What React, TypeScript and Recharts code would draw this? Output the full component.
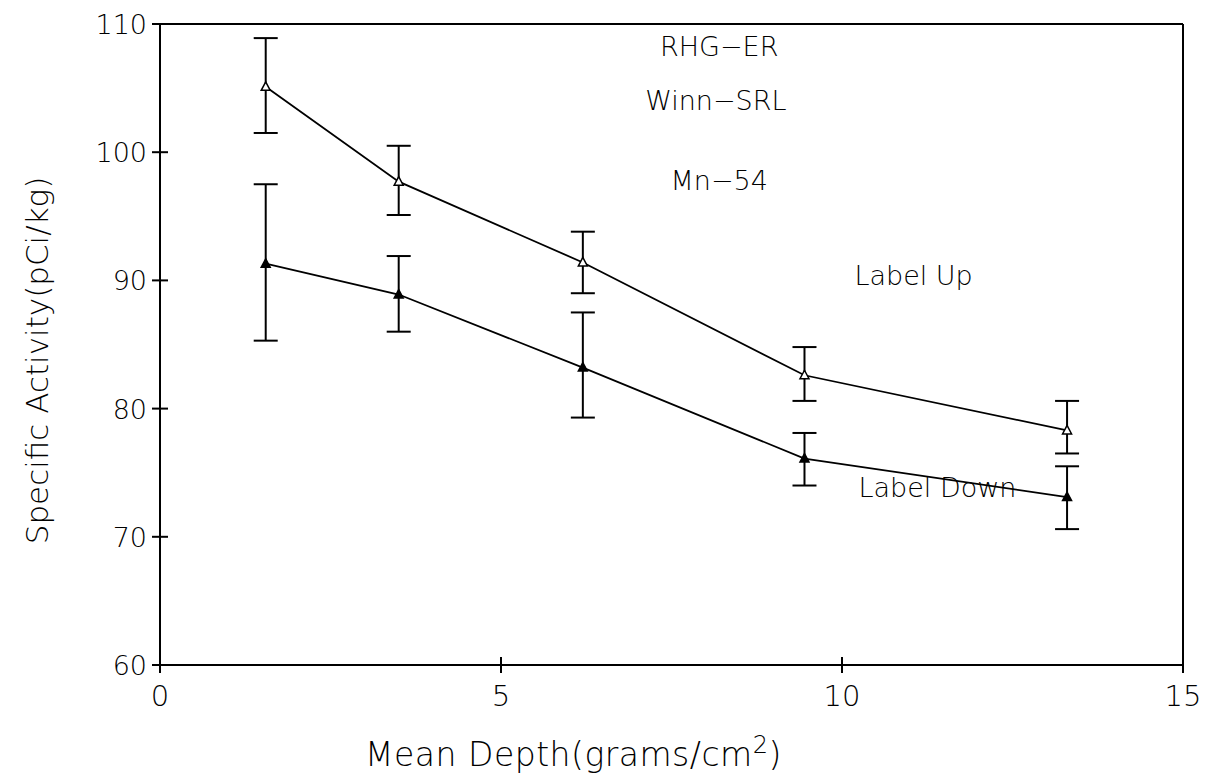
import React from 'react';
import { LineChart, Line, XAxis, YAxis, ErrorBar, ReferenceLine, ReferenceDot } from 'recharts';

// mean depth (grams/cm2)
const depth = [1.55, 3.5, 6.2, 9.45, 13.3];
// Label Up series + error bar limits
const labelUp = [105.1, 97.7, 91.4, 82.6, 78.3];
const upLow = [101.5, 95.1, 89.0, 80.6, 76.5];
const upHigh = [108.9, 100.5, 93.8, 84.8, 80.6];
// Label Down series + error bar limits
const labelDown = [91.3, 88.9, 83.2, 76.1, 73.1];
const downLow = [85.3, 86.0, 79.3, 74.0, 70.6];
const downHigh = [97.5, 91.9, 87.5, 78.1, 75.5];

const xTicks = [0, 5, 10, 15];
const yTicks = [60, 70, 80, 90, 100, 110];

const notes = [
  { x: 8.2, y: 108.3, text: 'RHG\u2212ER' },
  { x: 8.15, y: 104.1, text: 'Winn\u2212SRL' },
  { x: 8.2, y: 97.8, text: 'Mn\u221254' },
  { x: 11.05, y: 90.4, text: 'Label Up' },
  { x: 11.4, y: 73.9, text: 'Label Down' },
];

const data = depth.map((d, i) => ({
  depth: d,
  up: labelUp[i],
  upErr: [labelUp[i] - upLow[i], upHigh[i] - labelUp[i]],
  down: labelDown[i],
  downErr: [labelDown[i] - downLow[i], downHigh[i] - labelDown[i]],
}));

const FONT = '"DejaVu Sans", sans-serif';
const W = 200;

const Tri = (filled: boolean) => (props: any) => {
  const { cx, cy } = props;
  if (cx == null || cy == null) return <g />;
  return (
    <polygon
      points={`${cx},${cy - 5} ${cx - 4.5},${cy + 3.5} ${cx + 4.5},${cy + 3.5}`}
      fill={filled ? '#000' : '#fff'}
      stroke="#000"
      strokeWidth={1.5}
    />
  );
};

const YTick = (props: any) => {
  const { x, y, payload } = props;
  return (
    <g>
      <line x1={x - 8} x2={x + 8} y1={y} y2={y} stroke="#000" strokeWidth={2} />
      <text x={x - 13} y={y + 10} textAnchor="end" fontSize={27} fontFamily={FONT} fontWeight={W} fill="#000">
        {payload.value}
      </text>
    </g>
  );
};

const XTick = (props: any) => {
  const { x, y, payload } = props;
  return (
    <g>
      <line x1={x} x2={x} y1={y - 8} y2={y + 8} stroke="#000" strokeWidth={2} />
      <text x={x} y={y + 41} textAnchor="middle" fontSize={29} fontFamily={FONT} fontWeight={W} fill="#000">
        {payload.value}
      </text>
    </g>
  );
};

const XLabel = (props: any) => {
  const { viewBox } = props;
  const cx = viewBox.x + viewBox.width / 2 - 98;
  return (
    <text
      x={cx}
      y={viewBox.y + 101}
      textAnchor="middle"
      fontSize={33}
      letterSpacing={0.5}
      fontFamily={FONT}
      fontWeight={W}
      fill="#000"
    >
      Mean Depth(grams/cm
      <tspan dy={-13} fontSize={24}>2</tspan>
      <tspan dy={13}>)</tspan>
    </text>
  );
};

const YLabel = (props: any) => {
  const { viewBox } = props;
  const cy = viewBox.y + viewBox.height / 2 + 16;
  const x = 48;
  return (
    <text
      x={x}
      y={cy}
      transform={`rotate(-90, ${x}, ${cy})`}
      textAnchor="middle"
      fontSize={31}
      fontFamily={FONT}
      fontWeight={W}
      fill="#000"
    >
      Specific Activity(pCi/kg)
    </text>
  );
};

export default function App() {
  return (
    <div style={{ position: 'absolute', left: 0, top: 0, width: 1210, height: 783, background: '#fff' }}>
      <LineChart width={1210} height={783} data={data} margin={{ top: 24, right: 27, bottom: 58, left: 60 }}>
        <XAxis
          dataKey="depth"
          type="number"
          domain={[0, 15]}
          ticks={xTicks}
          tick={<XTick />}
          tickSize={0}
          tickMargin={0}
          tickLine={false}
          axisLine={{ stroke: '#000', strokeWidth: 2 }}
          height={60}
          label={<XLabel />}
        />
        <YAxis
          type="number"
          domain={[60, 110]}
          ticks={yTicks}
          tick={<YTick />}
          tickSize={0}
          tickMargin={0}
          tickLine={false}
          axisLine={{ stroke: '#000', strokeWidth: 2 }}
          width={100}
          label={<YLabel />}
        />
        <ReferenceLine y={110} stroke="#000" strokeWidth={2} />
        <ReferenceLine x={15} stroke="#000" strokeWidth={2} />
        <Line
          dataKey="up"
          type="linear"
          stroke="#000"
          strokeWidth={1.8}
          dot={Tri(false)}
          activeDot={false}
          isAnimationActive={false}
        >
          <ErrorBar dataKey="upErr" width={12} stroke="#000" strokeWidth={2} direction="y" />
        </Line>
        <Line
          dataKey="down"
          type="linear"
          stroke="#000"
          strokeWidth={1.8}
          dot={Tri(true)}
          activeDot={false}
          isAnimationActive={false}
        >
          <ErrorBar dataKey="downErr" width={12} stroke="#000" strokeWidth={2} direction="y" />
        </Line>
        {notes.map((n) => (
          <ReferenceDot
            key={n.text}
            x={n.x}
            y={n.y}
            r={0}
            shape={(p: any) => (
              <text
                x={p.cx}
                y={p.cy + 10}
                textAnchor="middle"
                fontSize={27}
                fontFamily={FONT}
                fontWeight={W}
                fill="#000"
              >
                {n.text}
              </text>
            )}
          />
        ))}
      </LineChart>
    </div>
  );
}
